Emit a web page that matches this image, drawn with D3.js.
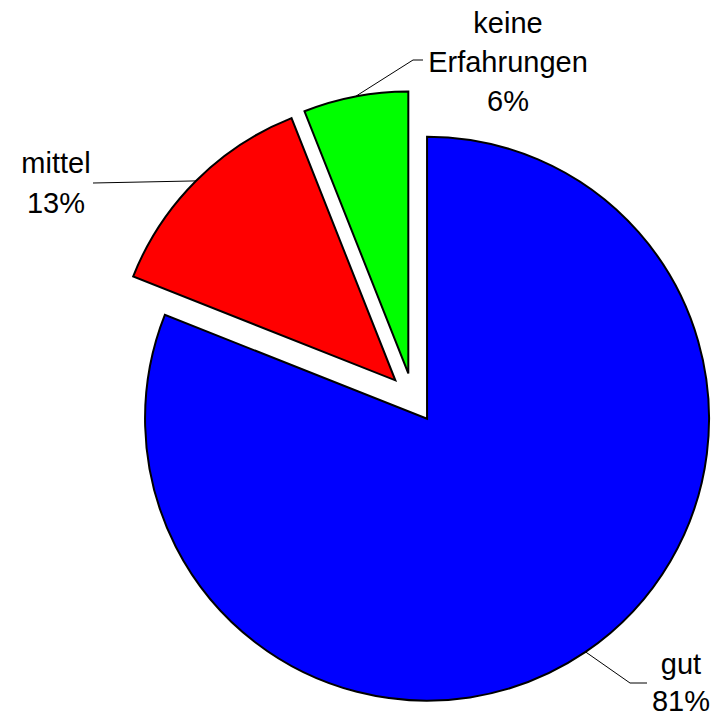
<!DOCTYPE html>
<html>
<head>
<meta charset="utf-8">
<script src="https://cdn.jsdelivr.net/npm/d3@7"></script>
<style>
  body { margin: 0; background: #fff; }
  text { font-family: Arial, "Liberation Sans", sans-serif; fill: #000; }
</style>
</head>
<body>
<svg width="713" height="717"></svg>
<script>
// pie data, clockwise from 12 o'clock
const categories = ['gut', 'mittel', 'keine Erfahrungen'];
const values = [81, 13, 6];
const labelLines = [['gut', '81%'], ['mittel', '13%'], ['keine', 'Erfahrungen', '6%']];
const colors = ['#0000ff', '#ff0000', '#00ff00'];

const svg = d3.select('svg');
const cx = 413, cy = 398, radius = 282, explode = 25;

const pie = d3.pie().sort(null).value(d => d.value);
const arc = d3.arc().innerRadius(0).outerRadius(radius);

const data = categories.map((c, i) => ({ name: c, value: values[i], color: colors[i], lines: labelLines[i] }));
const arcs = pie(data);

// label anchor positions (text centre, first baseline, line step) and bend points of the leader lines
const labelPos = [
  { x: 681, y: 674, step: 37, bend: [[630, 683], [647, 683]] },
  { x: 56, y: 173, step: 40, bend: [[93, 183]] },
  { x: 508, y: 33, step: 39, bend: [[413, 60], [423, 60]] }
];

const g = svg.append('g').attr('transform', `translate(${cx},${cy})`);

arcs.forEach((a, i) => {
  const mid = (a.startAngle + a.endAngle) / 2;
  const dx = Math.sin(mid) * explode, dy = -Math.cos(mid) * explode;
  const sg = g.append('g').attr('transform', `translate(${dx},${dy})`);
  sg.append('path')
    .attr('d', arc(a))
    .attr('fill', a.data.color)
    .attr('stroke', '#000')
    .attr('stroke-width', 2)
    .attr('stroke-linejoin', 'miter');

  // leader line from middle of outer arc
  const sx = cx + dx + Math.sin(mid) * radius;
  const sy = cy + dy - Math.cos(mid) * radius;
  const pts = [[sx, sy]].concat(labelPos[i].bend);
  svg.append('path')
    .attr('d', d3.line()(pts))
    .attr('fill', 'none')
    .attr('stroke', '#000')
    .attr('stroke-width', 1);

  const t = svg.append('text')
    .attr('text-anchor', 'middle')
    .attr('font-size', 29);
  a.data.lines.forEach((ln, j) => {
    t.append('tspan')
      .attr('x', labelPos[i].x)
      .attr('y', labelPos[i].y + j * labelPos[i].step)
      .text(ln);
  });
});
</script>
</body>
</html>
